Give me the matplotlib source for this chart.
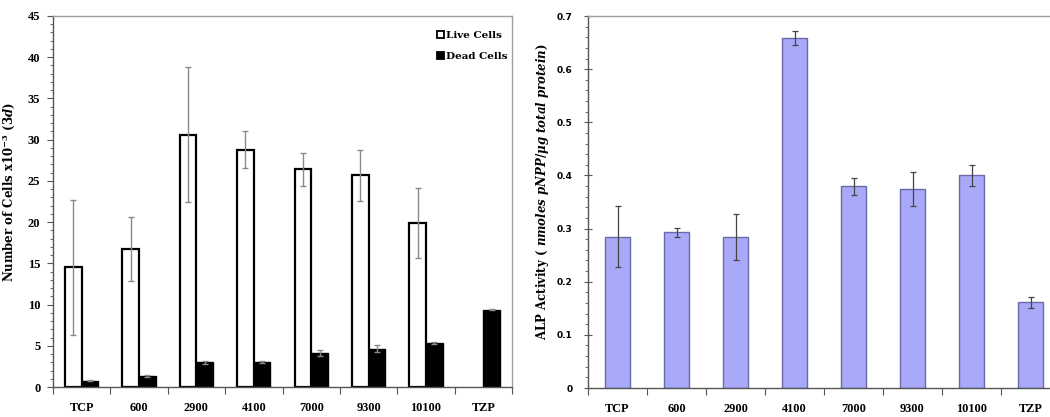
import matplotlib
matplotlib.use("Agg")
import matplotlib.pyplot as plt
import numpy as np
from matplotlib.patches import Patch
from matplotlib.ticker import MultipleLocator, FixedLocator, NullFormatter

# ---- data ----
categories = ["TCP", "600", "2900", "4100", "7000", "9300", "10100", "TZP"]

live_cells = [14.5, 16.7, 30.6, 28.8, 26.4, 25.7, 19.9, 0.0]
live_err = [8.2, 3.9, 8.2, 2.2, 2.0, 3.1, 4.2, 0.0]
dead_cells = [0.75, 1.3, 3.0, 3.0, 4.1, 4.65, 5.3, 9.4]
dead_err = [0.08, 0.1, 0.15, 0.1, 0.35, 0.4, 0.1, 0.1]

alp_activity = [0.285, 0.293, 0.284, 0.659, 0.380, 0.374, 0.400, 0.161]
alp_err = [0.058, 0.008, 0.044, 0.013, 0.016, 0.032, 0.020, 0.010]

# ---- style ----
plt.rcParams["font.family"] = ["DejaVu Serif"]
plt.rcParams["font.weight"] = "bold"
plt.rcParams["mathtext.fontset"] = "custom"
plt.rcParams["mathtext.rm"] = "DejaVu Serif:bold"
plt.rcParams["mathtext.it"] = "DejaVu Serif:italic:bold"
plt.rcParams["mathtext.bf"] = "DejaVu Serif:bold"

W, H = 1050, 417
fig = plt.figure(figsize=(W / 100, H / 100), dpi=100)

axis_dark = "#555555"
axis_light = "#a0a0a0"
xtick_font = dict(family="Liberation Serif", fontweight="bold", fontsize=8.8)
ytick_font = dict(family="Liberation Serif", fontweight="bold", fontsize=9)


def px_box(x0, x1, ytop, ybot):
    return [x0 / W, 1 - ybot / H, (x1 - x0) / W, (ybot - ytop) / H]


def category_axis(ax, n):
    ax.set_xlim(-0.5, n - 0.5)
    ax.xaxis.set_major_locator(FixedLocator(np.arange(-0.5, n, 1.0)))
    ax.xaxis.set_major_formatter(NullFormatter())
    ax.xaxis.set_minor_locator(FixedLocator(np.arange(n)))
    ax.set_xticklabels(categories, minor=True, **xtick_font)
    ax.tick_params(axis="x", which="major", direction="out", length=5,
                   width=0.8, color=axis_dark)
    ax.tick_params(axis="x", which="minor", length=0, pad=10.5)


# ---- left: live / dead cell counts ----
axL = fig.add_axes(px_box(53, 512, 16, 387))
x = np.arange(len(categories))
bw = 0.29
live_idx = [i for i, v in enumerate(live_cells) if v > 0]
live_x = [x[i] - bw / 2 for i in live_idx]
live_v = [live_cells[i] for i in live_idx]
live_e = [live_err[i] for i in live_idx]
axL.bar(live_x, live_v, bw, color="white", edgecolor="black",
        linewidth=1.6, zorder=2)
axL.bar(x + bw / 2, dead_cells, bw, color="black", edgecolor="black",
        linewidth=1.0, zorder=2)
axL.errorbar(live_x, live_v, yerr=live_e, fmt="none", ecolor="#8a8a8a",
             elinewidth=1.0, capsize=2.5, capthick=1.0, zorder=3)
axL.errorbar(x + bw / 2, dead_cells, yerr=dead_err, fmt="none",
             ecolor="#8a8a8a", elinewidth=1.0, capsize=2.5, capthick=1.0,
             zorder=3)

axL.set_ylim(0, 45)
axL.yaxis.set_minor_locator(MultipleLocator(1))
axL.set_yticks(np.arange(0, 46, 5))
axL.set_yticklabels([str(v) for v in range(0, 46, 5)], **ytick_font)
axL.tick_params(axis="y", which="major", direction="out", length=4,
                width=0.8, color=axis_dark, pad=5)
axL.tick_params(axis="y", which="minor", direction="out", length=2,
                width=0.6, color=axis_dark)
category_axis(axL, len(categories))

axL.spines["left"].set_color(axis_dark)
axL.spines["bottom"].set_color(axis_dark)
axL.spines["top"].set_color(axis_light)
axL.spines["right"].set_color(axis_light)
for s in axL.spines.values():
    s.set_linewidth(1.0)

axL.set_ylabel(r"$\mathrm{Number\ of\ Cells\ x10}^{-3}\ \mathrm{(}\mathit{3d}\mathrm{)}$",
               fontsize=8.5)
axL.yaxis.set_label_coords(-0.078, 0.526)

handles = [Patch(facecolor="white", edgecolor="black", linewidth=1.3),
           Patch(facecolor="black", edgecolor="black", linewidth=1.3)]
axL.legend(handles, ["Live Cells", "Dead Cells"], loc="upper right",
           bbox_to_anchor=(1.01, 0.985), frameon=False, handlelength=0.65,
           handleheight=0.7, handletextpad=0.2, labelspacing=1.1,
           prop=dict(family="DejaVu Serif", weight="bold", size=7.5))

# ---- right: ALP activity ----
axR = fig.add_axes(px_box(588, 1060, 16, 388))
axR.bar(x, alp_activity, 0.41, color="#a9a9f9", edgecolor="#6a6aa6",
        linewidth=1.0, zorder=2)
axR.errorbar(x, alp_activity, yerr=alp_err, fmt="none", ecolor="#444444",
             elinewidth=0.9, capsize=2.2, capthick=0.9, zorder=3)

axR.set_ylim(0, 0.7)
axR.yaxis.set_minor_locator(MultipleLocator(0.02))
axR.set_yticks(np.arange(0, 0.71, 0.1))
axR.set_yticklabels(["0", "0.1", "0.2", "0.3", "0.4", "0.5", "0.6", "0.7"],
                    family="DejaVu Sans", fontweight="bold", fontsize=6.5)
axR.tick_params(axis="y", which="major", direction="inout", length=6,
                width=0.8, color=axis_dark, pad=8)
axR.tick_params(axis="y", which="minor", direction="out", length=2,
                width=0.6, color=axis_dark)
category_axis(axR, len(categories))

axR.spines["left"].set_color(axis_dark)
axR.spines["bottom"].set_color(axis_dark)
axR.spines["top"].set_color(axis_light)
axR.spines["right"].set_visible(False)
for s in axR.spines.values():
    s.set_linewidth(1.0)

axR.set_ylabel(r"$\mathrm{ALP\ Activity\ (\ }\mathit{nmoles\ pNPP/\mu g\ total\ protein}\mathrm{)}$",
               fontsize=8.5)
axR.yaxis.set_label_coords(-0.078, 0.527)

fig.savefig("out.png", dpi=100)
